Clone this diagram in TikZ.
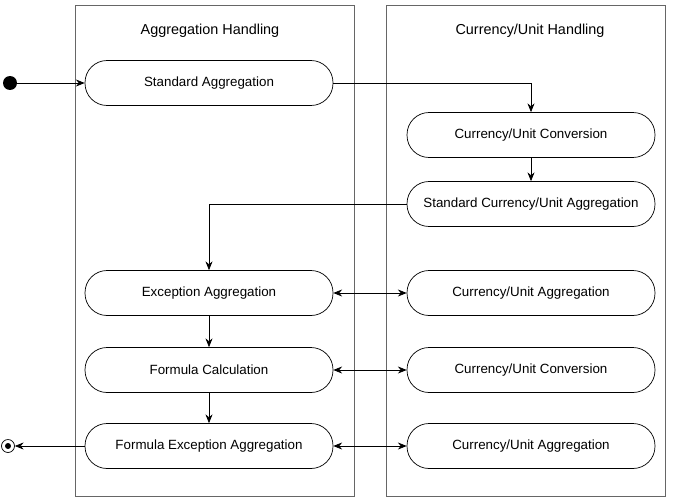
\documentclass[tikz,border=0pt]{standalone}
\usepackage{fontspec}
\setmainfont{Liberation Sans}
\usetikzlibrary{arrows.meta,positioning}
\tikzset{
  state/.style={draw,rounded corners=0.44cm,minimum width=4.96cm,minimum height=0.9cm,font=\fontsize{7.6}{9}\selectfont,fill=white},
  lane/.style={draw=black!60},
  flow/.style={-{Stealth[length=5pt,width=4pt]}},
  both/.style={{Stealth[length=5pt,width=4pt]}-{Stealth[length=5pt,width=4pt]}}
}
\begin{document}
\begin{tikzpicture}[x=0.02cm,y=-0.02cm]
		\useasboundingbox (0,0) rectangle (678,500);
		\draw[lane] (75,5) rectangle (354,496);
		\draw[lane] (386,5) rectangle (665,496);
		\node(t1) at (210,31) [font=\fontsize{8.2}{10}\selectfont] {Aggregation Handling};
		\node(t2) at (530,31) [font=\fontsize{8.2}{10}\selectfont] {Currency/Unit Handling};
		\node(start) at (10,83) [circle,fill=black,inner sep=0pt,minimum size=0.28cm] {};
		\node(1) at (209,83) [state] {Standard Aggregation};
		\node(2) at (531,135) [state] {Currency/Unit Conversion};
		\node(3) at (531,204) [state] {Standard Currency/Unit Aggregation};
		\node(4) at (209,293) [state] {Exception Aggregation};
		\node(5) at (531,293) [state] {Currency/Unit Aggregation};
		\node(6) at (209,370) [state] {Formula Calculation};
		\node(7) at (531,370) [state] {Currency/Unit Conversion};
		\node(8) at (209,446) [state] {Formula Exception Aggregation};
		\node(9) at (531,446) [state] {Currency/Unit Aggregation};
		\node(stop) at (8,446) [circle,draw,inner sep=0pt,minimum size=0.26cm] {};
		\node at (stop) [circle,fill=black,inner sep=0pt,minimum size=0.12cm] {};
		\draw[flow] (start) -- (1);
		\draw[flow] (1.east) -| (2.north);
		\draw[flow] (2) -- (3);
		\draw[flow] (3.west) -| (4.north);
		\draw[both] (4) -- (5);
		\draw[flow] (4) -- (6);
		\draw[both] (6) -- (7);
		\draw[flow] (6) -- (8);
		\draw[both] (8) -- (9);
		\draw[flow] (8) -- (stop);
	\end{tikzpicture}
\end{document}
